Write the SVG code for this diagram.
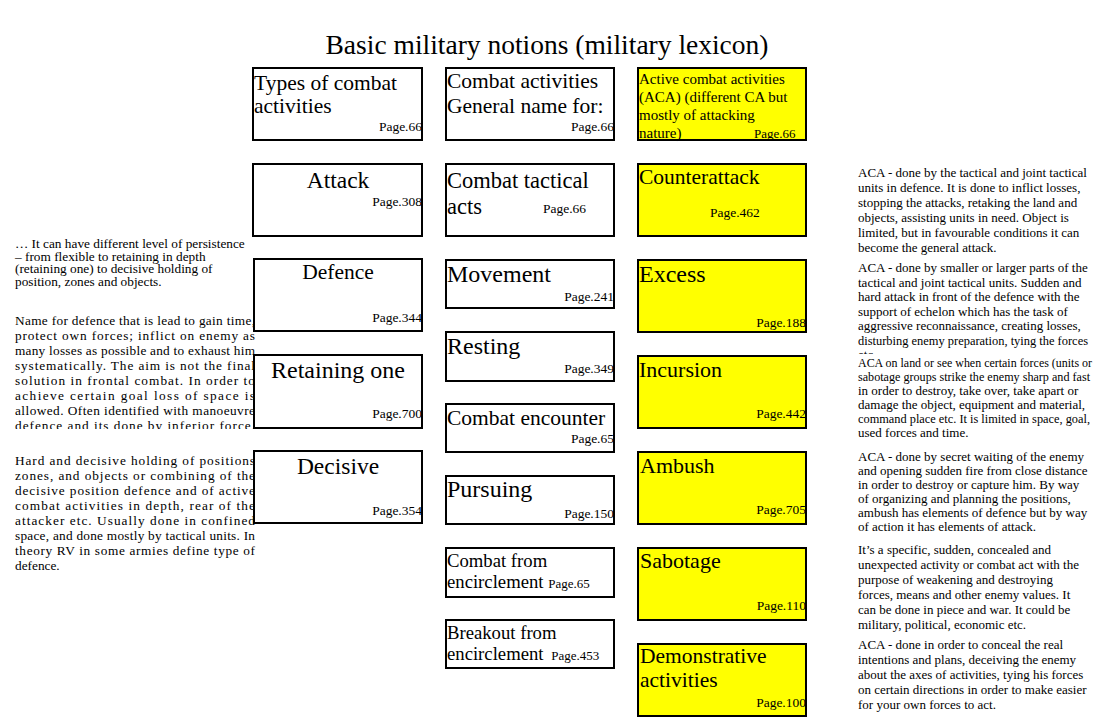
<svg xmlns="http://www.w3.org/2000/svg" width="1095" height="719" viewBox="0 0 1095 719">
  <style>
    text { font-family: "Liberation Serif", "Times New Roman", serif; fill: #000; }
    .box { fill: #fff; stroke: #000; stroke-width: 2; }
    .aca { fill: #ffff00; stroke: #000; stroke-width: 2; }
    .pg { font-size: 13.5px; }
    .pgs { font-size: 13px; }
    .note { font-size: 13.3px; }
    .rnote { font-size: 13px; }
    .mid { text-anchor: middle; }
    .end { text-anchor: end; }
  </style>
  <defs>
    <clipPath id="clipDefenceNote"><rect x="0" y="300" width="270" height="129"/></clipPath>
    <clipPath id="clipExcessNote"><rect x="840" y="258" width="255" height="96"/></clipPath>
  </defs>

  <rect width="1095" height="719" fill="#fff"/>

  <text x="547" y="54" class="mid" font-size="27.5">Basic military notions (military lexicon)</text>

  <!-- column 1: types of combat activities -->
  <g id="types">
    <rect class="box" x="253" y="68" width="169" height="72"/>
    <text x="254" y="90" font-size="21.5">Types of combat</text>
    <text x="254" y="113" font-size="21.5">activities</text>
    <text x="422" y="131" class="pg end">Page.66</text>
  </g>
  <g id="attack">
    <rect class="box" x="253" y="164" width="169" height="72"/>
    <text x="338" y="188" class="mid" font-size="23.5">Attack</text>
    <text x="422" y="206" class="pg end">Page.308</text>
  </g>
  <g id="defence">
    <rect class="box" x="254" y="259" width="168" height="72"/>
    <text x="338" y="279" class="mid" font-size="21.5">Defence</text>
    <text x="422" y="322" class="pg end">Page.344</text>
  </g>
  <g id="retaining">
    <rect class="box" x="254" y="355" width="168" height="73"/>
    <text x="338" y="378" class="mid" font-size="24">Retaining one</text>
    <text x="422" y="418" class="pg end">Page.700</text>
  </g>
  <g id="decisive">
    <rect class="box" x="254" y="451" width="168" height="72"/>
    <text x="338" y="474" class="mid" font-size="23.5">Decisive</text>
    <text x="422" y="515" class="pg end">Page.354</text>
  </g>

  <!-- column 2: combat activities -->
  <g id="combat-activities">
    <rect class="box" x="446" y="68" width="168" height="72"/>
    <text x="447" y="88" font-size="21.5">Combat activities</text>
    <text x="447" y="113" font-size="21.5">General name for:</text>
    <text x="614" y="131" class="pg end">Page.66</text>
  </g>
  <g id="tactical-acts">
    <rect class="box" x="446" y="164" width="168" height="72"/>
    <text x="447" y="188" font-size="22.5">Combat tactical</text>
    <text x="447" y="214" font-size="22.5">acts</text>
    <text x="543" y="213" class="pg">Page.66</text>
  </g>
  <g id="movement">
    <rect class="box" x="446" y="260" width="168" height="48"/>
    <text x="447" y="282" font-size="24">Movement</text>
    <text x="614" y="301" class="pg end">Page.241</text>
  </g>
  <g id="resting">
    <rect class="box" x="446" y="332" width="168" height="49"/>
    <text x="447" y="354" font-size="24">Resting</text>
    <text x="614" y="373" class="pg end">Page.349</text>
  </g>
  <g id="encounter">
    <rect class="box" x="446" y="404" width="168" height="48"/>
    <text x="447" y="425" font-size="21.5">Combat encounter</text>
    <text x="614" y="443" class="pg end">Page.65</text>
  </g>
  <g id="pursuing">
    <rect class="box" x="446" y="476" width="168" height="48"/>
    <text x="447" y="497" font-size="24">Pursuing</text>
    <text x="614" y="518" class="pg end">Page.150</text>
  </g>
  <g id="from-encirclement">
    <rect class="box" x="446" y="548" width="168" height="49"/>
    <text x="447" y="567" font-size="18.7">Combat from</text>
    <text x="447" y="588" font-size="18.7">encirclement <tspan class="pgs">Page.65</tspan></text>
  </g>
  <g id="breakout">
    <rect class="box" x="446" y="620" width="168" height="48"/>
    <text x="447" y="639" font-size="18.7">Breakout from</text>
    <text x="447" y="660" font-size="18.7">encirclement <tspan class="pgs" dx="3">Page.453</tspan></text>
  </g>

  <!-- column 3: active combat activities -->
  <g id="aca">
    <rect class="aca" x="638" y="68" width="168" height="72"/>
    <text x="639" y="84" font-size="15">Active combat activities</text>
    <text x="639" y="102" font-size="15">(ACA) (different CA but</text>
    <text x="639" y="120" font-size="15">mostly of attacking</text>
    <text x="639" y="138" font-size="15">nature)</text>
    <text x="754" y="138" class="pgs">Page.66</text>
  </g>
  <g id="counterattack">
    <rect class="aca" x="638" y="164" width="168" height="72"/>
    <text x="639" y="184" font-size="21.5">Counterattack</text>
    <text x="710" y="217" class="pg">Page.462</text>
  </g>
  <g id="excess">
    <rect class="aca" x="638" y="260" width="168" height="72"/>
    <text x="639" y="282" font-size="24">Excess</text>
    <text x="806" y="327" class="pg end">Page.188</text>
  </g>
  <g id="incursion">
    <rect class="aca" x="638" y="356" width="168" height="72"/>
    <text x="639" y="377" font-size="22">Incursion</text>
    <text x="806" y="418" class="pg end">Page.442</text>
  </g>
  <g id="ambush">
    <rect class="aca" x="638" y="452" width="168" height="72"/>
    <text x="640" y="473" font-size="22">Ambush</text>
    <text x="806" y="514" class="pg end">Page.705</text>
  </g>
  <g id="sabotage">
    <rect class="aca" x="638" y="548" width="168" height="72"/>
    <text x="640" y="568" font-size="22">Sabotage</text>
    <text x="806" y="610" class="pg end">Page.110</text>
  </g>
  <g id="demonstrative">
    <rect class="aca" x="638" y="644" width="168" height="72"/>
    <text x="640" y="663" font-size="21.5">Demonstrative</text>
    <text x="640" y="687" font-size="21.5">activities</text>
    <text x="806" y="707" class="pg end">Page.100</text>
  </g>

  <!-- notes beside the columns -->
  <g id="notes-left" class="note">
    <text x="15" y="248">… It can have different level of persistence</text>
    <text x="15" y="260.5">– from flexible to retaining in depth</text>
    <text x="15" y="273">(retaining one) to decisive holding of</text>
    <text x="15" y="285.5">position, zones and objects.</text>

    <g clip-path="url(#clipDefenceNote)">
      <text x="15" y="325" textLength="240" lengthAdjust="spacing">Name for defence that is lead to gain time,</text>
      <text x="15" y="340" textLength="240" lengthAdjust="spacing">protect own forces; inflict on enemy as</text>
      <text x="15" y="355" textLength="240" lengthAdjust="spacing">many losses as possible and to exhaust him</text>
      <text x="15" y="370" textLength="240" lengthAdjust="spacing">systematically. The aim is not the final</text>
      <text x="15" y="385" textLength="240" lengthAdjust="spacing">solution in frontal combat. In order to</text>
      <text x="15" y="400" textLength="240" lengthAdjust="spacing">achieve certain goal loss of space is</text>
      <text x="15" y="415" textLength="240" lengthAdjust="spacing">allowed. Often identified with manoeuvre</text>
      <text x="15" y="430" textLength="240" lengthAdjust="spacing">defence and its done by inferior force.</text>
    </g>

    <text x="15" y="465" textLength="240" lengthAdjust="spacing">Hard and decisive holding of positions</text>
    <text x="15" y="480" textLength="240" lengthAdjust="spacing">zones, and objects or combining of the</text>
    <text x="15" y="495" textLength="240" lengthAdjust="spacing">decisive position defence and of active</text>
    <text x="15" y="510" textLength="240" lengthAdjust="spacing">combat activities in depth, rear of the</text>
    <text x="15" y="525" textLength="240" lengthAdjust="spacing">attacker etc. Usually done in confined</text>
    <text x="15" y="540" textLength="240" lengthAdjust="spacing">space, and done mostly by tactical units. In</text>
    <text x="15" y="555" textLength="240" lengthAdjust="spacing">theory RV in some armies define type of</text>
    <text x="15" y="570">defence.</text>
  </g>

  <g id="notes-right" class="rnote">
    <text x="858" y="177">ACA - done by the tactical and joint tactical</text>
    <text x="858" y="192">units in defence. It is done to inflict losses,</text>
    <text x="858" y="207">stopping the attacks, retaking the land and</text>
    <text x="858" y="222">objects, assisting units in need. Object is</text>
    <text x="858" y="237">limited, but in favourable conditions it can</text>
    <text x="858" y="252">become the general attack.</text>

    <g clip-path="url(#clipExcessNote)">
      <text x="858" y="272">ACA - done by smaller or larger parts of the</text>
      <text x="858" y="286.5">tactical and joint tactical units. Sudden and</text>
      <text x="858" y="301">hard attack in front of the defence with the</text>
      <text x="858" y="315.5">support of echelon which has the task of</text>
      <text x="858" y="330">aggressive reconnaissance, creating losses,</text>
      <text x="858" y="344.5" textLength="230" lengthAdjust="spacingAndGlyphs">disturbing enemy preparation, tying the forces</text>
      <text x="858" y="359">etc.</text>
    </g>

    <text x="858" y="367" textLength="234" lengthAdjust="spacingAndGlyphs">ACA on land or see when certain forces (units or</text>
    <text x="858" y="381" textLength="232" lengthAdjust="spacingAndGlyphs">sabotage groups strike the enemy sharp and fast</text>
    <text x="858" y="395">in order to destroy, take over, take apart or</text>
    <text x="858" y="409">damage the object, equipment and material,</text>
    <text x="858" y="423" textLength="232" lengthAdjust="spacingAndGlyphs">command place etc. It is limited in space, goal,</text>
    <text x="858" y="437">used forces and time.</text>

    <text x="858" y="461">ACA - done by secret waiting of the enemy</text>
    <text x="858" y="475">and opening sudden fire from close distance</text>
    <text x="858" y="489">in order to destroy or capture him. By way</text>
    <text x="858" y="503">of organizing and planning the positions,</text>
    <text x="858" y="517">ambush has elements of defence but by way</text>
    <text x="858" y="531">of action it has elements of attack.</text>

    <text x="858" y="554">It’s a specific, sudden, concealed and</text>
    <text x="858" y="569">unexpected activity or combat act with the</text>
    <text x="858" y="584">purpose of weakening and destroying</text>
    <text x="858" y="599">forces, means and other enemy values. It</text>
    <text x="858" y="614">can be done in piece and war. It could be</text>
    <text x="858" y="629">military, political, economic etc.</text>

    <text x="858" y="649">ACA - done in order to conceal the real</text>
    <text x="858" y="664">intentions and plans, deceiving the enemy</text>
    <text x="858" y="679">about the axes of activities, tying his forces</text>
    <text x="858" y="694">on certain directions in order to make easier</text>
    <text x="858" y="709">for your own forces to act.</text>
  </g>
</svg>
